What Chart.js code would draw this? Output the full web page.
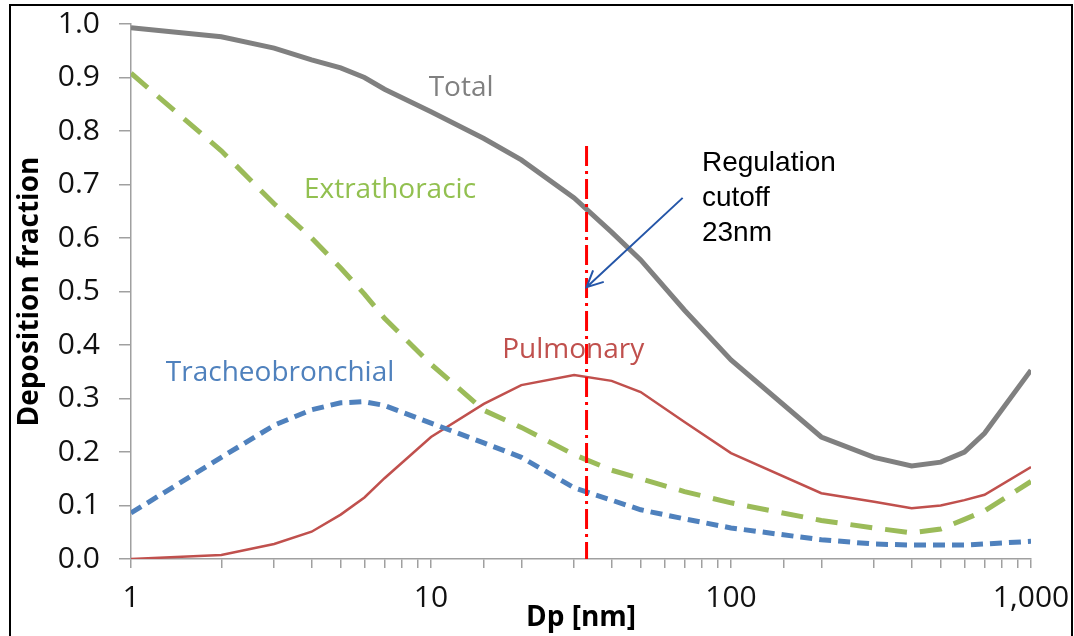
<!DOCTYPE html>
<html>
<head>
<meta charset="utf-8">
<script src="https://cdn.jsdelivr.net/npm/chart.js@4/dist/chart.umd.min.js"></script>
<style>
  html, body { margin: 0; padding: 0; background: #fff; }
  #wrap { width: 1074px; height: 636px; position: relative; }
</style>
</head>
<body>
<div id="wrap"><canvas id="chart" width="1074" height="636"></canvas></div>
<script>
// particle diameter [nm]
const dp = [1, 2, 3, 4, 5, 6, 7, 10, 15, 20, 30, 40, 50, 70, 100, 200, 300, 400, 500, 600, 700, 1000];

// deposition fractions
const total          = [0.993, 0.976, 0.955, 0.933, 0.918, 0.900, 0.878, 0.836, 0.786, 0.746, 0.675, 0.611, 0.559, 0.465, 0.372, 0.228, 0.190, 0.174, 0.181, 0.200, 0.235, 0.353];
const extrathoracic  = [0.908, 0.763, 0.664, 0.600, 0.544, 0.495, 0.450, 0.364, 0.278, 0.246, 0.195, 0.166, 0.150, 0.126, 0.105, 0.072, 0.058, 0.049, 0.056, 0.074, 0.090, 0.145];
const tracheo        = [0.086, 0.190, 0.250, 0.279, 0.292, 0.294, 0.287, 0.254, 0.217, 0.190, 0.133, 0.110, 0.092, 0.075, 0.058, 0.036, 0.028, 0.026, 0.026, 0.026, 0.028, 0.033];
const pulmonary      = [0.000, 0.0075, 0.028, 0.051, 0.083, 0.115, 0.151, 0.228, 0.290, 0.325, 0.344, 0.333, 0.312, 0.256, 0.198, 0.123, 0.107, 0.095, 0.100, 0.110, 0.120, 0.172];

const xTickLabels = {1: '1', 10: '10', 100: '100', 1000: '1,000'};

// annotations (data units)
const cutoffX = 33;
const cutoffTop = 0.772;
const arrowFrom = [69, 0.675];
const arrowTo = [33, 0.508];
const noteLines = ['Regulation', 'cutoff', '23nm'];
const notePos = [80, 0.74];

const seriesLabels = [
  {text: 'Total', x: 12.6, y: 0.88, color: '#808080'},
  {text: 'Extrathoracic', x: 7.3, y: 0.69, color: '#92C050'},
  {text: 'Tracheobronchial', x: 3.14, y: 0.348, color: '#4F81BD'},
  {text: 'Pulmonary', x: 29.8, y: 0.39, color: '#C0504D'}
];

function pts(arr) {
  return dp.map((d, i) => ({x: d, y: arr[i]}));
}

const extras = {
  id: 'extras',
  beforeDraw(chart) {
    const c = chart.ctx;
    c.save();
    c.fillStyle = '#fff';
    c.fillRect(0, 0, chart.width, chart.height);
    c.restore();
  },
  afterDraw(chart) {
    const c = chart.ctx;
    const xs = chart.scales.x, ys = chart.scales.y;

    // cutoff line
    c.save();
    c.strokeStyle = '#FF0000';
    c.lineWidth = 3;
    c.setLineDash([20, 5, 3, 5]);
    const cx = xs.getPixelForValue(cutoffX);
    c.beginPath();
    c.moveTo(cx, ys.getPixelForValue(cutoffTop));
    c.lineTo(cx, ys.getPixelForValue(0));
    c.stroke();
    c.restore();

    // arrow
    const x1 = xs.getPixelForValue(arrowFrom[0]), y1 = ys.getPixelForValue(arrowFrom[1]);
    const x2 = xs.getPixelForValue(arrowTo[0]), y2 = ys.getPixelForValue(arrowTo[1]);
    const ang = Math.atan2(y2 - y1, x2 - x1);
    c.save();
    c.strokeStyle = '#2556A8';
    c.lineWidth = 2;
    c.beginPath();
    c.moveTo(x1, y1);
    c.lineTo(x2, y2);
    c.moveTo(x2 - 18 * Math.cos(ang - 0.45), y2 - 18 * Math.sin(ang - 0.45));
    c.lineTo(x2, y2);
    c.lineTo(x2 - 18 * Math.cos(ang + 0.45), y2 - 18 * Math.sin(ang + 0.45));
    c.stroke();
    c.restore();

    // note text
    c.save();
    c.fillStyle = '#000';
    c.font = '28px "Liberation Sans", Arial, sans-serif';
    c.textBaseline = 'middle';
    const nx = xs.getPixelForValue(notePos[0]);
    const ny = ys.getPixelForValue(notePos[1]);
    noteLines.forEach((t, i) => c.fillText(t, nx, ny + i * 35));
    c.restore();

    // series labels
    c.save();
    c.font = '28px "Open Sans", sans-serif';
    c.textAlign = 'center';
    c.textBaseline = 'middle';
    seriesLabels.forEach(l => {
      c.fillStyle = l.color;
      c.fillText(l.text, xs.getPixelForValue(l.x), ys.getPixelForValue(l.y));
    });
    c.restore();

    // frame
    c.save();
    c.strokeStyle = '#000';
    c.lineWidth = 2;
    c.strokeRect(10, 5, 1062, 640);
    c.restore();
  }
};

new Chart(document.getElementById('chart'), {
  type: 'line',
  data: {
    datasets: [
      {label: 'Total', data: pts(total), borderColor: '#808080', borderWidth: 5},
      {label: 'Extrathoracic', data: pts(extrathoracic), borderColor: '#9BBB59', borderWidth: 5, borderDash: [22, 13]},
      {label: 'Tracheobronchial', data: pts(tracheo), borderColor: '#4F81BD', borderWidth: 5, borderDash: [12, 7]},
      {label: 'Pulmonary', data: pts(pulmonary), borderColor: '#C0504D', borderWidth: 2.5}
    ]
  },
  options: {
    responsive: false,
    animation: false,
    layout: {padding: {left: 0, top: 24, right: 43, bottom: 0}},
    elements: {point: {radius: 0}, line: {tension: 0}},
    plugins: {legend: {display: false}, tooltip: {enabled: false}},
    scales: {
      x: {
        type: 'logarithmic',
        min: 1,
        max: 1000,
        afterFit(s) { s.height = 77; s.paddingLeft = 0; s.paddingRight = 0; },
        border: {color: '#A0A0A0', width: 1.5},
        grid: {drawOnChartArea: false, tickLength: 9, color: '#A0A0A0', lineWidth: 1.5},
        ticks: {
          autoSkip: false,
          maxRotation: 0,
          padding: 12,
          color: '#111',
          font: {family: '"Open Sans", sans-serif', size: 30},
          callback: v => xTickLabels[v] !== undefined ? xTickLabels[v] : ''
        },
        title: {
          display: true,
          text: 'Dp [nm]',
          color: '#000',
          font: {family: '"Open Sans", sans-serif', size: 28, weight: 'bold'},
          padding: {top: 0, bottom: 1}
        }
      },
      y: {
        min: 0,
        max: 1,
        afterFit(s) { s.width = 131; s.paddingTop = 0; s.paddingBottom = 0; },
        border: {color: '#A0A0A0', width: 1.5},
        grid: {drawOnChartArea: false, tickLength: 12, color: '#A0A0A0', lineWidth: 1.5},
        ticks: {
          stepSize: 0.1,
          padding: 19,
          color: '#111',
          font: {family: '"Open Sans", sans-serif', size: 30},
          callback: v => v.toFixed(1)
        },
        title: {
          display: true,
          text: 'Deposition fraction',
          color: '#000',
          font: {family: '"Open Sans", sans-serif', size: 28, weight: 'bold'},
          padding: {top: 13, bottom: 0}
        }
      }
    }
  },
  plugins: [extras]
});
</script>
</body>
</html>
